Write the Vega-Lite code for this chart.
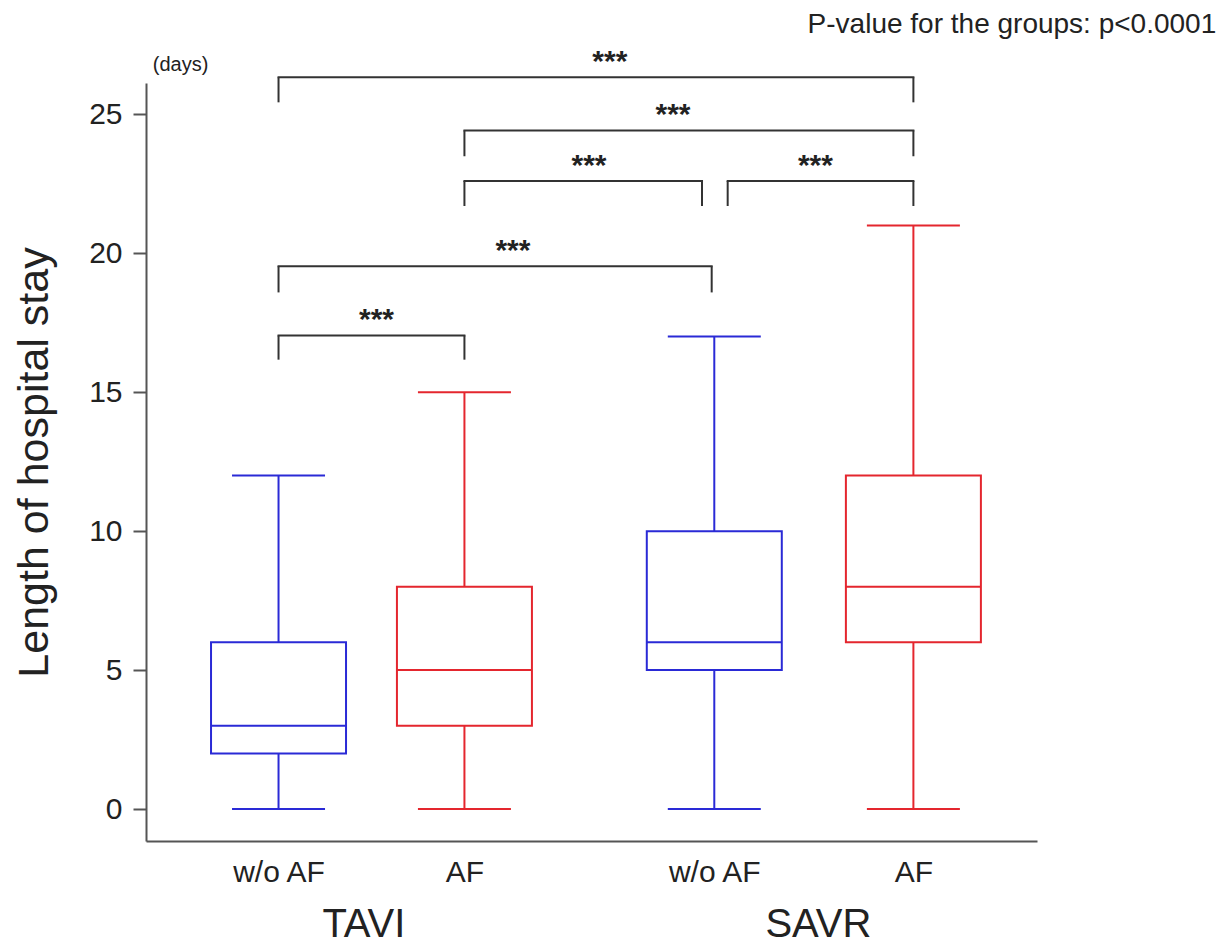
{
  "$schema": "https://vega.github.io/schema/vega-lite/v6.json",
  "width": 891,
  "height": 758,
  "autosize": {"type": "none"},
  "padding": {"left": 146, "top": 83, "right": 191, "bottom": 104},
  "background": "white",
  "config": {"view": {"stroke": null}, "font": "Liberation Sans"},
  "datasets": {
    "boxes": [
      {"group": "TAVI", "af": "w/o AF", "x": 1, "lo": 0, "q1": 2, "med": 3, "q3": 6, "hi": 12},
      {"group": "TAVI", "af": "AF", "x": 2, "lo": 0, "q1": 3, "med": 5, "q3": 8, "hi": 15},
      {"group": "SAVR", "af": "w/o AF", "x": 3.344, "lo": 0, "q1": 5, "med": 6, "q3": 10, "hi": 17},
      {"group": "SAVR", "af": "AF", "x": 4.415, "lo": 0, "q1": 6, "med": 8, "q3": 12, "hi": 21}
    ],
    "brackets": [
      {"pair": "TAVI w/o AF vs TAVI AF", "x1": 1, "x2": 2, "y": 17.04, "ylow": 16.17, "xt": 1.527, "sig": "***"},
      {"pair": "TAVI w/o AF vs SAVR w/o AF", "x1": 1, "x2": 3.33, "y": 19.53, "ylow": 18.59, "xt": 2.261, "sig": "***"},
      {"pair": "TAVI AF vs SAVR w/o AF", "x1": 2, "x2": 3.278, "y": 22.6, "ylow": 21.7, "xt": 2.67, "sig": "***"},
      {"pair": "SAVR w/o AF vs SAVR AF", "x1": 3.416, "x2": 4.415, "y": 22.6, "ylow": 21.7, "xt": 3.888, "sig": "***"},
      {"pair": "TAVI AF vs SAVR AF", "x1": 2, "x2": 4.415, "y": 24.42, "ylow": 23.49, "xt": 3.122, "sig": "***"},
      {"pair": "TAVI w/o AF vs SAVR AF", "x1": 1, "x2": 4.415, "y": 26.33, "ylow": 25.43, "xt": 2.782, "sig": "***"}
    ],
    "groups": [
      {"x": 1.459, "y": -4.606, "label": "TAVI"},
      {"x": 3.904, "y": -4.606, "label": "SAVR"}
    ],
    "unit": [
      {"x": 0.473, "y": 26.56, "label": "(days)"}
    ],
    "pvalue": [
      {"x": 3.846, "y": 27.92, "label": "P-value for the groups: p<0.0001"}
    ]
  },
  "layer": [
    {
      "data": {"name": "boxes"},
      "mark": {"type": "rule", "strokeWidth": 2},
      "encoding": {
        "x": {
          "field": "x", "type": "quantitative",
          "scale": {"domain": [0.314, 5.053], "nice": false, "zero": false},
          "axis": {
            "title": null, "values": [1, 2, 3.344, 4.415],
            "labelExpr": "(datum.value < 1.5 || (datum.value > 3 && datum.value < 4)) ? 'w/o AF' : 'AF'",
            "ticks": false, "tickSize": 0, "grid": false,
            "domainColor": "#555555", "domainWidth": 2,
            "labelFontSize": 30, "labelColor": "#222222", "labelPadding": 16,
            "labelFlush": false, "labelOverlap": false, "labelFont": "Liberation Sans"
          }
        },
        "y": {
          "field": "lo", "type": "quantitative",
          "scale": {"domain": [-1.151, 26.126], "nice": false, "zero": false},
          "axis": {
            "title": "Length of hospital stay", "values": [0, 5, 10, 15, 20, 25],
            "grid": false, "tickSize": 13, "tickWidth": 2, "tickColor": "#555555",
            "domainColor": "#555555", "domainWidth": 2,
            "labelFontSize": 30, "labelColor": "#222222", "labelPadding": 11, "labelFont": "Liberation Sans",
            "titleFontSize": 43, "titleFontWeight": "normal", "titleColor": "#222222",
            "titlePadding": 32, "titleFont": "Liberation Sans"
          }
        },
        "y2": {"field": "q1"},
        "color": {
          "field": "af", "type": "nominal",
          "scale": {"domain": ["w/o AF", "AF"], "range": ["#2a2ad6", "#e4262e"]},
          "legend": null
        }
      }
    },
    {
      "data": {"name": "boxes"},
      "mark": {"type": "rule", "strokeWidth": 2},
      "encoding": {
        "x": {"field": "x", "type": "quantitative"},
        "y": {"field": "q3", "type": "quantitative"},
        "y2": {"field": "hi"},
        "color": {"field": "af", "type": "nominal", "legend": null}
      }
    },
    {
      "data": {"name": "boxes"},
      "mark": {"type": "bar", "filled": false, "size": 135, "strokeWidth": 2},
      "encoding": {
        "x": {"field": "x", "type": "quantitative"},
        "y": {"field": "q1", "type": "quantitative"},
        "y2": {"field": "q3"},
        "color": {"field": "af", "type": "nominal", "legend": null}
      }
    },
    {
      "data": {"name": "boxes"},
      "mark": {"type": "tick", "orient": "horizontal", "size": 135, "thickness": 2, "opacity": 1},
      "encoding": {
        "x": {"field": "x", "type": "quantitative"},
        "y": {"field": "med", "type": "quantitative"},
        "color": {"field": "af", "type": "nominal", "legend": null}
      }
    },
    {
      "data": {"name": "boxes"},
      "mark": {"type": "tick", "orient": "horizontal", "size": 93, "thickness": 2, "opacity": 1},
      "encoding": {
        "x": {"field": "x", "type": "quantitative"},
        "y": {"field": "hi", "type": "quantitative"},
        "color": {"field": "af", "type": "nominal", "legend": null}
      }
    },
    {
      "data": {"name": "boxes"},
      "mark": {"type": "tick", "orient": "horizontal", "size": 93, "thickness": 2, "opacity": 1},
      "encoding": {
        "x": {"field": "x", "type": "quantitative"},
        "y": {"field": "lo", "type": "quantitative"},
        "color": {"field": "af", "type": "nominal", "legend": null}
      }
    },
    {
      "data": {"name": "brackets"},
      "mark": {"type": "rule", "strokeWidth": 2, "color": "#333333", "strokeCap": "square"},
      "encoding": {
        "x": {"field": "x1", "type": "quantitative"},
        "x2": {"field": "x2"},
        "y": {"field": "y", "type": "quantitative"}
      }
    },
    {
      "data": {"name": "brackets"},
      "mark": {"type": "rule", "strokeWidth": 2, "color": "#333333"},
      "encoding": {
        "x": {"field": "x1", "type": "quantitative"},
        "y": {"field": "y", "type": "quantitative"},
        "y2": {"field": "ylow"}
      }
    },
    {
      "data": {"name": "brackets"},
      "mark": {"type": "rule", "strokeWidth": 2, "color": "#333333"},
      "encoding": {
        "x": {"field": "x2", "type": "quantitative"},
        "y": {"field": "y", "type": "quantitative"},
        "y2": {"field": "ylow"}
      }
    },
    {
      "data": {"name": "brackets"},
      "mark": {"type": "text", "fontSize": 30, "fontWeight": "bold", "baseline": "alphabetic", "align": "center", "dy": -6, "color": "#222222"},
      "encoding": {
        "x": {"field": "xt", "type": "quantitative"},
        "y": {"field": "y", "type": "quantitative"},
        "text": {"field": "sig"}
      }
    },
    {
      "data": {"name": "groups"},
      "mark": {"type": "text", "fontSize": 40, "baseline": "alphabetic", "align": "center", "color": "#222222"},
      "encoding": {
        "x": {"field": "x", "type": "quantitative"},
        "y": {"field": "y", "type": "quantitative"},
        "text": {"field": "label"}
      }
    },
    {
      "data": {"name": "unit"},
      "mark": {"type": "text", "fontSize": 20, "baseline": "alphabetic", "align": "center", "color": "#222222"},
      "encoding": {
        "x": {"field": "x", "type": "quantitative"},
        "y": {"field": "y", "type": "quantitative"},
        "text": {"field": "label"}
      }
    },
    {
      "data": {"name": "pvalue"},
      "mark": {"type": "text", "fontSize": 28, "baseline": "alphabetic", "align": "left", "color": "#222222"},
      "encoding": {
        "x": {"field": "x", "type": "quantitative"},
        "y": {"field": "y", "type": "quantitative"},
        "text": {"field": "label"}
      }
    }
  ]
}
